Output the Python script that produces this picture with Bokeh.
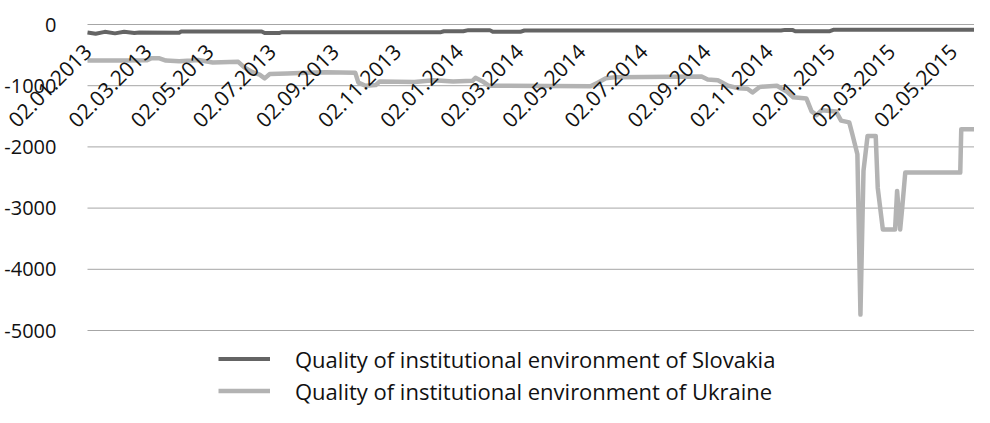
import math
import pandas as pd
from bokeh.plotting import figure
from bokeh.models import (Range1d, FixedTicker, Legend, LegendItem, LinearAxis,
                          DatetimeAxis, DatetimeTickFormatter)
from bokeh.embed import file_html
from bokeh.resources import INLINE

# ---------------- data ----------------
series_names = [
    "Quality of institutional environment of Slovakia",
    "Quality of institutional environment of Ukraine",
]

slovakia_dates = [
    "2013-01-02", "2013-01-10", "2013-01-19", "2013-01-29", "2013-02-07", "2013-02-17",
    "2013-02-22", "2013-04-02", "2013-04-04", "2013-06-22", "2013-06-25", "2013-07-09",
    "2013-07-12", "2013-12-15", "2013-12-18", "2014-01-06", "2014-01-11", "2014-02-01",
    "2014-02-04", "2014-03-03", "2014-03-07", "2014-11-14", "2014-11-18", "2014-11-25",
    "2014-11-28", "2015-01-01", "2015-01-05", "2015-05-23",
]
slovakia_values = [
    -130, -150, -120, -145, -120, -140,
    -130, -135, -115, -115, -140, -140,
    -125, -125, -110, -110, -92, -92,
    -120, -120, -98, -98, -88, -88,
    -110, -110, -85, -85,
]

ukraine_dates = [
    "2013-01-02", "2013-02-02", "2013-03-01", "2013-03-06", "2013-03-13", "2013-03-20",
    "2013-04-02", "2013-04-14", "2013-04-21", "2013-05-05", "2013-05-30", "2013-06-05",
    "2013-06-13", "2013-06-20", "2013-06-25", "2013-06-30", "2013-07-17", "2013-08-05",
    "2013-08-24", "2013-09-22", "2013-09-25", "2013-10-02", "2013-10-12", "2013-10-16",
    "2013-11-19", "2013-12-08", "2013-12-27", "2014-01-15", "2014-01-18", "2014-01-25",
    "2014-01-31", "2014-05-11", "2014-05-18", "2014-05-26", "2014-06-05", "2014-08-28",
    "2014-09-03", "2014-09-13", "2014-09-23", "2014-10-03", "2014-10-12", "2014-10-17",
    "2014-10-24", "2014-11-10", "2014-11-20", "2014-11-26", "2014-12-09", "2014-12-14",
    "2014-12-19", "2014-12-24", "2015-01-07", "2015-01-12", "2015-01-20", "2015-01-23",
    "2015-01-28", "2015-01-31", "2015-02-03", "2015-02-07", "2015-02-15", "2015-02-17",
    "2015-02-22", "2015-03-06", "2015-03-08", "2015-03-11", "2015-03-13", "2015-03-16",
    "2015-05-09", "2015-05-10", "2015-05-23",
]
ukraine_values = [
    -590, -590, -585, -550, -550, -590,
    -600, -590, -580, -620, -610, -700,
    -780, -820, -880, -810, -800, -790,
    -780, -790, -950, -1000, -990, -930,
    -940, -910, -930, -920, -870, -930,
    -1000, -1010, -950, -880, -860, -850,
    -900, -910, -1000, -1040, -1050, -1110,
    -1020, -1000, -1100, -1190, -1210, -1420,
    -1480, -1400, -1420, -1570, -1600, -1790,
    -2120, -4740, -2390, -1820, -1820, -2670,
    -3350, -3350, -2720, -3350, -3000, -2420,
    -2420, -1710, -1710,
]

x_tick_labels = [
    "02.01.2013", "02.03.2013", "02.05.2013", "02.07.2013", "02.09.2013", "02.11.2013",
    "02.01.2014", "02.03.2014", "02.05.2014", "02.07.2014", "02.09.2014", "02.11.2014",
    "02.01.2015", "02.03.2015", "02.05.2015",
]
y_ticks = [0, -1000, -2000, -3000, -4000, -5000]

# ---------------- layout (pixels) ----------------
W, H = 974, 407
PLOT_LEFT, PLOT_TOP, PLOT_BOTTOM = 87, 24, 330   # where first date / 0 / -5000 fall

sk_x = pd.to_datetime(slovakia_dates)
ua_x = pd.to_datetime(ukraine_dates)
tick_x = pd.to_datetime(x_tick_labels, format="%d.%m.%Y")

def ms(t):
    return pd.Timestamp(t).value / 1e6

x0, x1 = ms(sk_x.min()), ms(sk_x.max())
ms_per_px = (x1 - x0) / (W - PLOT_LEFT)
u_per_px = (max(y_ticks) - min(y_ticks)) / (PLOT_BOTTOM - PLOT_TOP)
x_start = x0 - PLOT_LEFT * ms_per_px
y_end = max(y_ticks) + PLOT_TOP * u_per_px
y_start = max(y_ticks) - (H - PLOT_TOP) * u_per_px

p = figure(
    width=W, height=H,
    output_backend="svg", toolbar_location=None,
    x_axis_type="datetime", x_axis_location=None, y_axis_location=None,
    x_range=Range1d(x_start, x1), y_range=Range1d(y_start, y_end),
    min_border_left=0, min_border_right=0, min_border_top=0, min_border_bottom=0,
)
p.outline_line_color = None
p.background_fill_color = "white"
p.border_fill_color = "white"
p.xgrid.visible = False
p.ygrid.visible = False

# horizontal gridlines over the plot area
p.segment(x0=[sk_x.min()] * len(y_ticks), x1=[sk_x.max()] * len(y_ticks),
          y0=y_ticks, y1=y_ticks, line_color="#a6a6a6", line_width=1)

# y axis (fixed at the first date)
yax = LinearAxis(fixed_location=x0, ticker=FixedTicker(ticks=y_ticks),
                 major_label_overrides={t: str(t) for t in y_ticks})
yax.axis_line_color = None
yax.major_tick_line_color = None
yax.minor_tick_line_color = None
yax.major_label_standoff = 25
yax.major_label_text_font = "Open Sans"
yax.major_label_text_font_size = "20px"
yax.major_label_text_color = "#111111"
p.add_layout(yax, "left")

r_sk = p.line(sk_x, slovakia_values, line_color="#646464", line_width=4, line_join="round")
r_ua = p.line(ua_x, ukraine_values, line_color="#b3b3b3", line_width=4.5, line_join="round")

# x axis (fixed at value 0)
fmt = "%d.%m.%Y"
xax = DatetimeAxis(
    fixed_location=0,
    ticker=FixedTicker(ticks=[ms(t) for t in tick_x]),
    formatter=DatetimeTickFormatter(days=fmt, months=fmt, years=fmt, hours=fmt,
                                    minutes=fmt, seconds=fmt, milliseconds=fmt,
                                    microseconds=fmt, minsec=fmt, hourmin=fmt),
    major_label_overrides={ms(t): lab for t, lab in zip(tick_x, x_tick_labels)},
)
xax.axis_line_color = None
xax.major_tick_line_color = None
xax.minor_tick_line_color = None
xax.major_label_orientation = math.pi / 4
xax.major_label_standoff = 17
xax.major_label_text_font = "Open Sans"
xax.major_label_text_font_size = "21px"
xax.major_label_text_color = "#111111"
p.add_layout(xax, "below")

legend = Legend(
    items=[LegendItem(label=series_names[0], renderers=[r_sk]),
           LegendItem(label=series_names[1], renderers=[r_ua])],
    location=(218, 1.5), orientation="vertical",
    glyph_width=52, glyph_height=29, label_height=29, label_standoff=25, spacing=2,
    padding=0, margin=0, border_line_color=None, background_fill_alpha=0,
    label_text_font="Open Sans", label_text_font_size="22px", label_text_color="#111111",
)
p.add_layout(legend)

open("out.html", "w").write(file_html(p, INLINE))
